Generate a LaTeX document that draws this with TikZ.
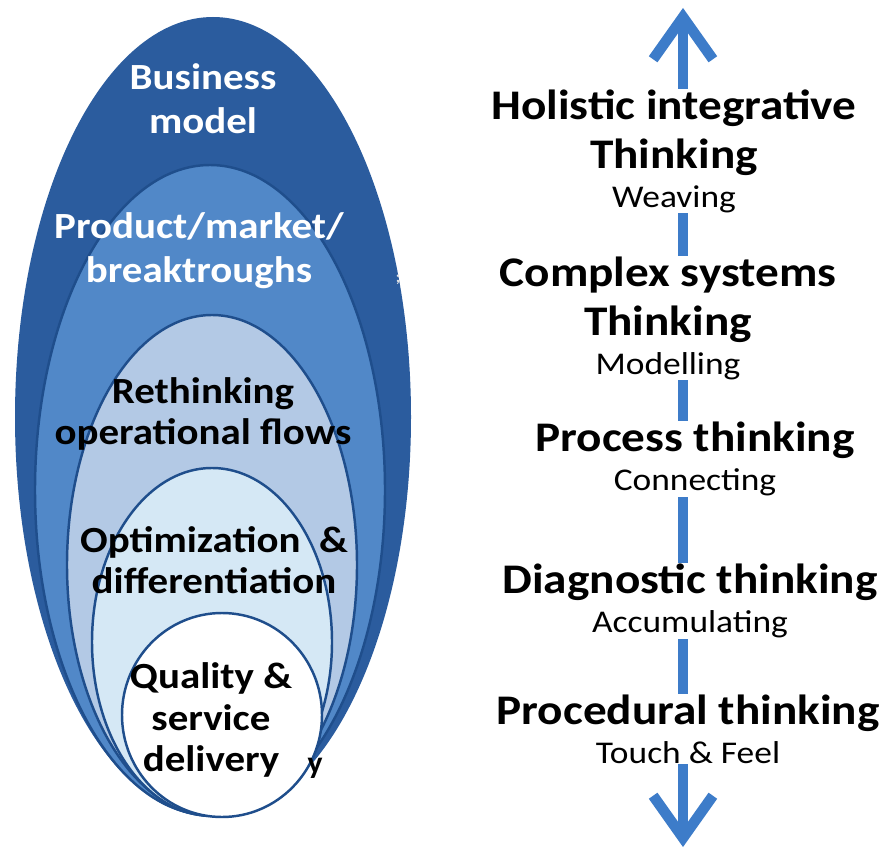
\documentclass[tikz,border=0pt]{standalone}
\usepackage{fontspec}
\setmainfont{Carlito}
\usetikzlibrary{arrows.meta}
\definecolor{darkblue}{HTML}{2B5C9E}
\definecolor{midblue}{HTML}{5188C8}
\definecolor{lightblue}{HTML}{B3C9E5}
\definecolor{paleblue}{HTML}{D5E8F5}
\definecolor{rimblue}{HTML}{1F4E8C}
\definecolor{arrowblue}{HTML}{3D7CC9}
\newcommand{\levelsub}[1]{{\mdseries\fontsize{18}{20}\selectfont #1}}
\tikzset{
  ring/.style={draw=rimblue, line width=1.4pt},
  whitelabel/.style={text=white, font=\bfseries\fontsize{21}{25}\selectfont, align=center, inner sep=0pt, xscale=1.11},
  blacklabel/.style={text=black, font=\bfseries\fontsize{21}{23.5}\selectfont, align=center, inner sep=0pt, xscale=1.11},
  level/.style={fill=white, align=center, inner xsep=3pt, inner ysep=0.5pt, font=\bfseries\fontsize{24}{28}\selectfont, xscale=1.12},
}
\begin{document}
\begin{tikzpicture}[x=0.02cm, y=-0.02cm]
\useasboundingbox[fill=white] (0,0) rectangle (882,851);
% nested ellipses
\fill[darkblue] (213,417) ellipse [x radius=198, y radius=400];
\filldraw[ring, fill=midblue] (210,490) ellipse [x radius=175, y radius=325];
\filldraw[ring, fill=lightblue] (212,565) ellipse [x radius=145, y radius=250];
\filldraw[ring, fill=paleblue] (212,642) ellipse [x radius=120, y radius=174];
\filldraw[ring, fill=white] (222,715) ellipse [x radius=100, y radius=102];
\node[whitelabel] (business) at (203,99) {Business\\model};
\node[whitelabel] (product) at (199,251) {Product/market/\\breaktroughs};
\node[text=white!80!gray, font=\bfseries\small, inner sep=0pt] (semi) at (398,280) {;};
\node[blacklabel] (rethink) at (203,414) {Rethinking\\operational flows};
\node[blacklabel] (optim) at (214,560) {Optimization~~\&\\differentiation};
\node[blacklabel] (quality) at (211,720) {Quality \&\\service\\delivery};
\node[font=\bfseries\fontsize{18}{20}\selectfont, inner sep=0pt] (ychar) at (315,768) {y};
% thinking levels
\coordinate (top) at (683,8);
\coordinate (bottom) at (683,847);
\draw[arrowblue, line width=6pt, {Straight Barb[length=24pt, width=34pt]}-{Straight Barb[length=24pt, width=34pt]}] (bottom) -- (top);
\node[level] (holistic) at (674,151) {Holistic integrative\\Thinking\\[-6pt]\levelsub{Weaving}};
\node[level] (complex) at (668,318) {Complex systems\\Thinking\\[-6pt]\levelsub{Modelling}};
\node[level] (process) at (695,459) {Process thinking\\[-6pt]\levelsub{Connecting}};
\node[level] (diagnostic) at (690,601) {Diagnostic thinking\\[-6pt]\levelsub{Accumulating}};
\node[level] (procedural) at (688,729) {Procedural thinking\\[-6pt]\levelsub{Touch \& Feel}};
\end{tikzpicture}
\end{document}
